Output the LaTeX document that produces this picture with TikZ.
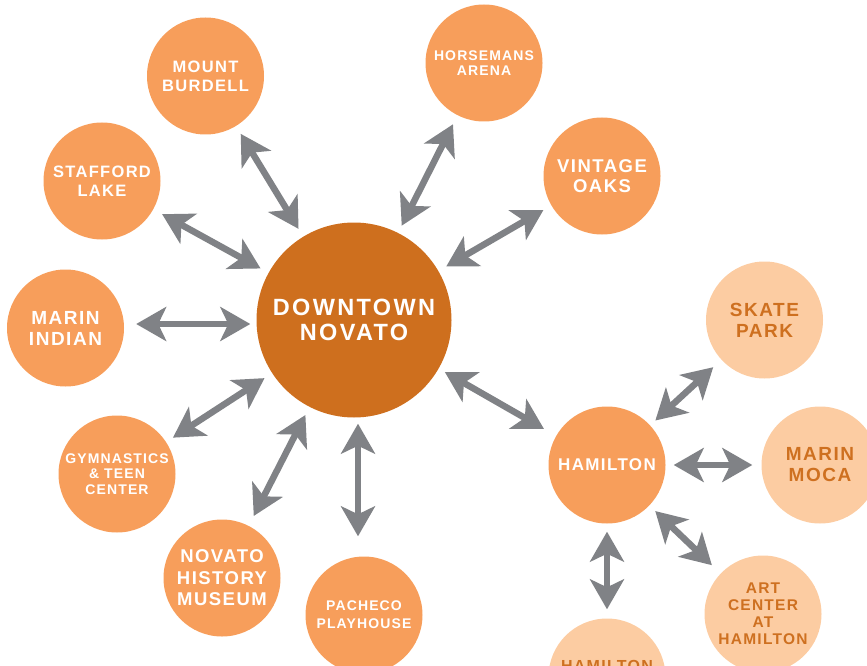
\documentclass[tikz,border=0pt]{standalone}
\usepackage{fontspec}
\usetikzlibrary{arrows.meta}
\newfontfamily\lsfont[LetterSpace=8]{Liberation Sans}
\newfontfamily\lsbigfont[LetterSpace=10]{Liberation Sans}
\definecolor{hubc}{RGB}{206,111,30}
\definecolor{midc}{RGB}{247,158,91}
\definecolor{lightc}{RGB}{252,204,162}
\definecolor{darktxt}{RGB}{206,112,32}
\definecolor{arrowgray}{RGB}{128,130,134}
\tikzset{
  spot/.style={circle, fill=midc, draw=none, minimum size=117pt, inner sep=0pt, align=center, text=white},
  litespot/.style={spot, fill=lightc, text=darktxt},
  hub/.style={circle, fill=hubc, draw=none, minimum size=195pt, inner sep=0pt, align=center, text=white,
    font=\lsbigfont\bfseries\fontsize{23.5}{24.5}\selectfont},
  fsmall/.style={font=\lsfont\bfseries\fontsize{14}{15.5}\selectfont},
  fmed/.style={font=\lsfont\bfseries\fontsize{16.5}{19}\selectfont},
  fbig/.style={font=\lsfont\bfseries\fontsize{19}{21}\selectfont},
  link/.style={line width=6.5pt, draw=arrowgray,
    {Stealth[length=30pt,width=34pt,inset=8pt]}-{Stealth[length=30pt,width=34pt,inset=8pt]}},
}
\begin{document}
\begin{tikzpicture}[x=1pt,y=-1pt]
\useasboundingbox (0,0) rectangle (867,666);
\clip (0,0) rectangle (867,666);
% hub
\node[hub] (dt) at (354,320) {DOWNTOWN\\NOVATO};
% spokes
\node[spot,fmed] (mb) at (205.5,76) {MOUNT\\BURDELL};
\node[spot,fsmall] (ha) at (484,63) {HORSEMANS\\ARENA};
\node[spot,font=\lsfont\bfseries\fontsize{18.5}{20.5}\selectfont] (vo) at (602,176) {VINTAGE\\OAKS};
\node[spot,fmed] (sl) at (102,181) {STAFFORD\\LAKE};
\node[spot,fbig] (mi) at (65.5,328) {MARIN\\INDIAN};
\node[spot,font=\lsfont\bfseries\fontsize{14}{15.5}\selectfont] (gy) at (117,474) {GYMNASTICS\\\&~TEEN\\CENTER};
\node[spot,font=\lsfont\bfseries\fontsize{18.5}{21.5}\selectfont] (mu) at (222,578) {NOVATO\\HISTORY\\MUSEUM};
\node[spot,font=\lsfont\bfseries\fontsize{14}{18}\selectfont] (pp) at (364,615) {PACHECO\\PLAYHOUSE};
% Hamilton cluster
\node[spot,font=\lsfont\bfseries\fontsize{17}{19}\selectfont] (hm) at (607,465) {HAMILTON};
\node[litespot,fbig] (sk) at (764.5,320) {SKATE\\PARK};
\node[litespot,fbig] (mo) at (820,465) {MARIN\\MOCA};
\node[litespot,font=\lsfont\bfseries\fontsize{15.5}{17}\selectfont] (ac) at (763,614) {ART\\CENTER\\AT\\HAMILTON};
\node[litespot] (hb) at (607,677) {};
\node[anchor=base, text=darktxt, font=\lsfont\bfseries\fontsize{16}{18}\selectfont, inner sep=0pt] (hbt) at (607,671) {HAMILTON};
% connectors
\draw[link, shorten <=9pt, shorten >=9pt] (mb) -- (dt);
\draw[link, shorten <=10pt, shorten >=8pt] (ha) -- (dt);
\draw[link, shorten <=9pt, shorten >=9pt] (vo) -- (dt);
\draw[link, shorten <=10pt, shorten >=9pt] (sl) -- (dt);
\draw[link, shorten <=12pt, shorten >=6pt] ([yshift=4pt]mi.east) -- ([yshift=-4pt]dt.west);
\draw[link, shorten <=8pt, shorten >=9pt] (gy) -- (dt);
\draw[link, shorten <=11pt, shorten >=9pt] (mu) -- (dt);
\draw[link, shorten <=20pt, shorten >=6pt] ([xshift=-6pt]pp.north) -- ([xshift=4pt]dt.south);
\draw[link, shorten <=14pt, shorten >=7pt] (hm) -- (dt);
\draw[link, shorten <=11pt, shorten >=7pt] (sk) -- (hm);
\draw[link, shorten <=9pt, shorten >=8pt] (mo) -- (hm);
\draw[link, shorten <=12pt, shorten >=8pt] (ac) -- (hm);
\draw[link, shorten <=9pt, shorten >=8pt] (hb) -- (hm);
\end{tikzpicture}
\end{document}
